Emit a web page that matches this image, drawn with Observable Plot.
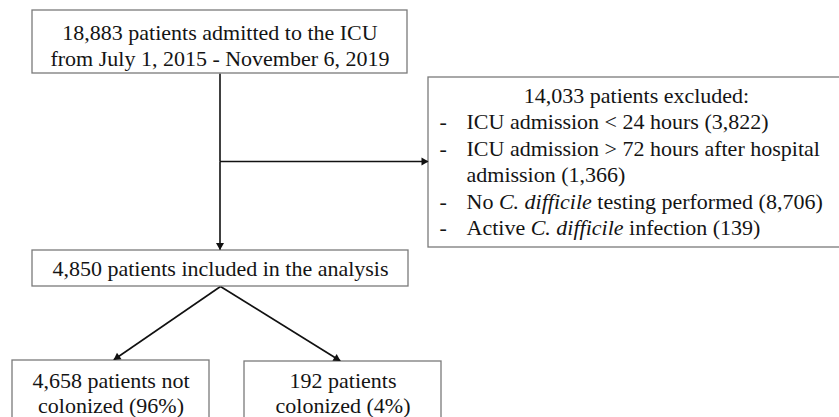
<!DOCTYPE html>
<html>
<head>
<meta charset="utf-8">
<script src="https://cdn.jsdelivr.net/npm/d3@7"></script>
<script src="https://cdn.jsdelivr.net/npm/@observablehq/plot@0.6"></script>
<style>
  html, body { margin: 0; padding: 0; background: #fff; overflow: hidden; }
</style>
</head>
<body>
<div id="chart"></div>
<script>
// ---- content (text of the flow chart) ----
const topLines = ["18,883 patients admitted to the ICU", "from July 1, 2015 - November 6, 2019"];
const excludedHeader = ["14,033 patients excluded:"];
const exclusionLines = [
  "ICU admission < 24 hours (3,822)",
  "ICU admission > 72 hours after hospital",
  "admission (1,366)",
  "No *C. difficile* testing performed (8,706)",
  "Active *C. difficile* infection (139)"
];
const exclusionBullet = [true, true, false, true, true];
const includedLines = ["4,850 patients included in the analysis"];
const notColonizedLines = ["4,658 patients not", "colonized (96%)"];
const colonizedLines = ["192 patients", "colonized (4%)"];

// ---- layout (pixel frame of the flow chart) ----
const W = 839, H = 417;
const boxes = [
  {x1: 32, x2: 407, y1: 10, y2: 73},     // admitted
  {x1: 428, x2: 845, y1: 77, y2: 247},   // excluded
  {x1: 32, x2: 408, y1: 250, y2: 286},   // included
  {x1: 12, x2: 209, y1: 360, y2: 430},   // not colonized
  {x1: 244, x2: 441, y1: 361, y2: 430}   // colonized
];
const lineH = 26.5;
const rows = [];
topLines.forEach((t, i) => rows.push({x: 219.5, y: 32 + i * lineH, text: t, anchor: "middle"}));
excludedHeader.forEach((t, i) => rows.push({x: 636, y: 95 + i * lineH, text: t, anchor: "middle"}));
exclusionLines.forEach((t, i) => {
  const y = 121.5 + i * lineH;
  if (exclusionBullet[i]) rows.push({x: 439, y, text: "-", anchor: "start"});
  rows.push({x: 466, y, text: t, anchor: "start"});
});
includedLines.forEach((t, i) => rows.push({x: 220, y: 268 + i * lineH, text: t, anchor: "middle"}));
// bottom boxes: two-line blocks whose last baseline sits just above the frame edge
const bottomBlocks = [
  {x: 110.5, y: 412, text: notColonizedLines.join("\n")},
  {x: 342.5, y: 412, text: colonizedLines.join("\n")}
];

const links = [
  {x1: 219.5, y1: 73, x2: 219.5, y2: 161, head: false},
  {x1: 219.5, y1: 161, x2: 219.5, y2: 249.5, head: true},
  {x1: 219.5, y1: 161, x2: 428, y2: 161, head: true},
  {x1: 220, y1: 286, x2: 113, y2: 359.5, head: true},
  {x1: 220, y1: 286, x2: 340, y2: 360.5, head: true}
];
// filled triangular heads, derived from the link ends
const headR = 3;
const headBack = 2 * Math.sqrt(Math.PI * headR * headR / (3 * Math.sqrt(3)));
const heads = links.filter(d => d.head).map(d => {
  const dx = d.x2 - d.x1, dy = d.y2 - d.y1, L = Math.hypot(dx, dy);
  return {x: d.x2 - dx / L * headBack, y: d.y2 - dy / L * headBack, rotate: Math.atan2(dx, -dy) * 180 / Math.PI};
});

const font = "'Liberation Serif', 'Times New Roman', serif";
const txt = (anchor) => Plot.text(rows.filter(d => d.anchor === anchor), {
  x: "x", y: "y", text: "text", textAnchor: anchor,
  fontFamily: font, fontSize: 22, fill: "#141414"
});

const chart = Plot.plot({
  width: W, height: H,
  margin: 0,
  x: {domain: [0, W], range: [0, W], axis: null},
  y: {domain: [0, H], range: [0, H], axis: null},
  style: {background: "#fff", overflow: "hidden"},
  marks: [
    Plot.link(links, {x1: "x1", y1: "y1", x2: "x2", y2: "y2", stroke: "#111", strokeWidth: 1.6}),
    Plot.rect(boxes, {x1: "x1", x2: "x2", y1: "y1", y2: "y2", fill: "#fff", stroke: "#7a7a7a", strokeWidth: 1.3}),
    Plot.dot(heads, {x: "x", y: "y", rotate: "rotate", symbol: "triangle", r: headR, fill: "#111", stroke: "none"}),
    txt("middle"),
    txt("start"),
    Plot.text(bottomBlocks, {
      x: "x", y: "y", text: "text", textAnchor: "middle", lineAnchor: "bottom", lineHeight: 1.12,
      fontFamily: font, fontSize: 22, fill: "#141414"
    })
  ]
});

// italicise the species name, marked with *...*
d3.select(chart).selectAll("text").each(function () {
  const s = this.textContent;
  if (!s.includes("*")) return;
  const parts = s.split("*");
  const sel = d3.select(this);
  sel.text(null);
  parts.forEach((p, i) => {
    if (!p) return;
    sel.append("tspan").attr("font-style", i % 2 ? "italic" : null).text(p);
  });
});

document.getElementById("chart").appendChild(chart);
</script>
</body>
</html>
